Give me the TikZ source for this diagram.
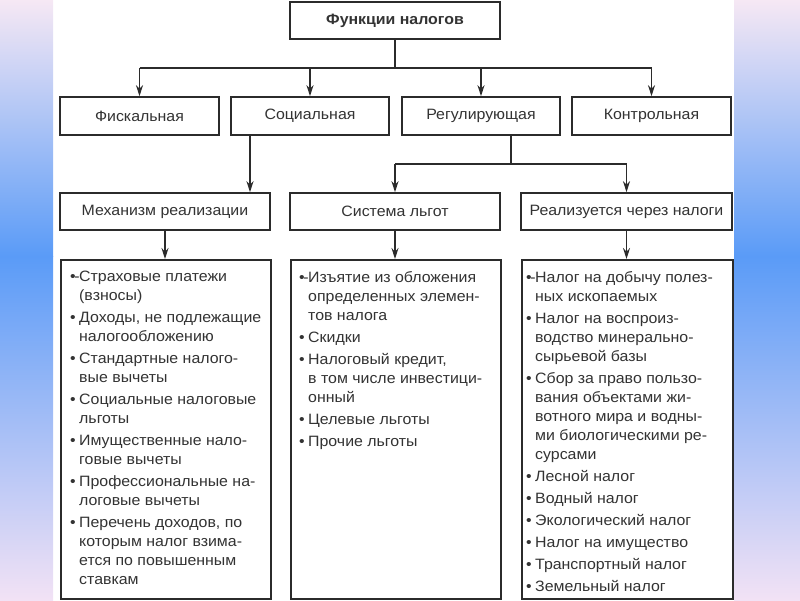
\documentclass[tikz,border=0pt]{standalone}
\usepackage{fontspec}
\setmainfont[FakeStretch=1.06]{Liberation Sans}
\usetikzlibrary{arrows.meta}

\definecolor{inkgray}{HTML}{2B2B2B}
\definecolor{textgray}{HTML}{333333}
\definecolor{striptop}{HTML}{F6E8F4}
\definecolor{stripmid}{HTML}{5A9BF7}
\definecolor{stripbot}{HTML}{F2E2F5}

\newcommand{\bul}{\makebox[9pt][l]{•}}
\newcommand{\bulfirst}{\makebox[9pt][l]{•\kern-1.5pt-}}
\newcommand{\ind}{\hspace*{9pt}}

\begin{document}
\begin{tikzpicture}[x=1pt, y=-1pt,
    fbox/.style={draw=inkgray, line width=1.6pt, fill=white, inner sep=0pt,
        text=textgray, font=\fontsize{15}{17}\selectfont},
    listbox/.style={draw=inkgray, line width=1.6pt, fill=white, inner sep=0pt,
        anchor=north west, minimum width=210pt, minimum height=339pt},
    listtext/.style={anchor=north west, align=left, inner sep=0pt, text=textgray,
        font=\fontsize{15}{19}\selectfont},
    link/.style={draw=inkgray, line width=1.3pt},
    arr/.style={link, -{Stealth[length=11pt,width=7pt]}}]

    \useasboundingbox (0,0) rectangle (800,600);
    \fill[top color=striptop, bottom color=stripmid] (0,0) rectangle (53,256);
    \fill[top color=stripmid, bottom color=stripbot] (0,256) rectangle (53,600);
    \fill[top color=striptop, bottom color=stripmid] (734,0) rectangle (800,256);
    \fill[top color=stripmid, bottom color=stripbot] (734,256) rectangle (800,600);

    \node[fbox, minimum width=210pt, minimum height=37pt, font=\fontsize{15}{17}\selectfont\bfseries] (func) at (395,20.5) {Функции налогов};

    \node[fbox, minimum width=159pt, minimum height=38pt] (fisc) at (139.5,116) {Фискальная};
    \node[fbox, minimum width=158pt, minimum height=38pt] (soc) at (310,116) {Социальная};
    \node[fbox, minimum width=158pt, minimum height=38pt] (reg) at (481,116) {Регулирующая};
    \node[fbox, minimum width=159pt, minimum height=38pt] (kontr) at (651.5,116) {Контрольная};

    \node[fbox, minimum width=210pt, minimum height=37pt] (mech) at (165,211.5) {Механизм реализации};
    \node[fbox, minimum width=210pt, minimum height=37pt] (lgot) at (395,211.5) {Система льгот};
    \node[fbox, minimum width=211pt, minimum height=37pt] (nal) at (626.5,211.5) {Реализуется через налоги};

    \node[listbox] (list1) at (60,259) {};
    \node[listbox] (list2) at (290,259) {};
    \node[listbox, minimum width=211pt] (list3) at (521,259) {};

    \node[listtext] (items1) at (70,271) {%
        \bulfirst Страховые платежи\\ \ind(взносы)\\[3pt]
        \bul Доходы, не подлежащие\\ \ind налогообложению\\[3pt]
        \bul Стандартные налого-\\ \ind вые вычеты\\[3pt]
        \bul Социальные налоговые\\ \ind льготы\\[3pt]
        \bul Имущественные нало-\\ \ind говые вычеты\\[3pt]
        \bul Профессиональные на-\\ \ind логовые вычеты\\[3pt]
        \bul Перечень доходов, по\\ \ind которым налог взима-\\ \ind ется по повышенным\\ \ind ставкам};

    \node[listtext] (items2) at (299,271) {%
        \bulfirst Изъятие из обложения\\ \ind определенных элемен-\\ \ind тов налога\\[3pt]
        \bul Скидки\\[3pt]
        \bul Налоговый кредит,\\ \ind в том числе инвестици-\\ \ind онный\\[3pt]
        \bul Целевые льготы\\[3pt]
        \bul Прочие льготы};

    \node[listtext] (items3) at (526,271) {%
        \bulfirst Налог на добычу полез-\\ \ind ных ископаемых\\[3pt]
        \bul Налог на воспроиз-\\ \ind водство минерально-\\ \ind сырьевой базы\\[3pt]
        \bul Сбор за право пользо-\\ \ind вания объектами жи-\\ \ind вотного мира и водны-\\ \ind ми биологическими ре-\\ \ind сурсами\\[3pt]
        \bul Лесной налог\\[3pt]
        \bul Водный налог\\[3pt]
        \bul Экологический налог\\[3pt]
        \bul Налог на имущество\\[3pt]
        \bul Транспортный налог\\[3pt]
        \bul Земельный налог};

    \coordinate (bus) at (395,68);
    \coordinate (split) at (511,164);

    \draw[link] (func.south) -- (bus);
    \draw[link] (fisc.north |- bus) -- (kontr.north |- bus);
    \draw[arr] (fisc.north |- bus) -- (fisc.north);
    \draw[arr] (soc.north |- bus) -- (soc.north);
    \draw[arr] (reg.north |- bus) -- (reg.north);
    \draw[arr] (kontr.north |- bus) -- (kontr.north);

    \draw[arr] ([xshift=-60pt]soc.south) -- ([xshift=-60pt]soc.south |- mech.north);

    \draw[link] (split |- reg.south) -- (split);
    \draw[link] (lgot.north |- split) -- (nal.north |- split);
    \draw[arr] (lgot.north |- split) -- (lgot.north);
    \draw[arr] (nal.north |- split) -- (nal.north);

    \draw[arr] (mech.south) -- (list1.north -| mech.south);
    \draw[arr] (lgot.south) -- (list2.north -| lgot.south);
    \draw[arr] (nal.south) -- (list3.north -| nal.south);

\end{tikzpicture}
\end{document}
